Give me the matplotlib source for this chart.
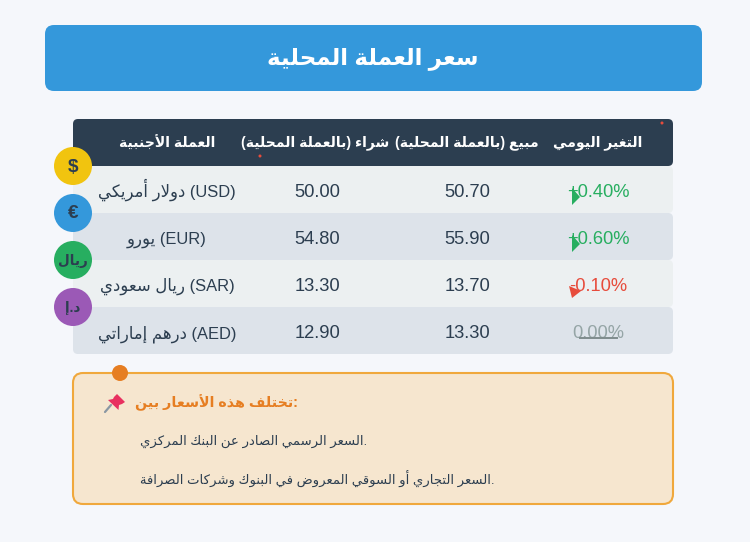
# -*- coding: utf-8 -*-
"""Local currency rates table, drawn in pixel coordinates."""

import matplotlib
matplotlib.use("Agg")
import matplotlib.pyplot as plt
from matplotlib.patches import Circle, FancyBboxPatch, Polygon

TITLE = "سعر العملة المحلية"
HEADERS = ["العملة الأجنبية", "شراء (بالعملة المحلية)", "مبيع (بالعملة المحلية)", "التغير اليومي"]
NAMES = ["دولار أمريكي", "يورو", "ريال سعودي", "درهم إماراتي"]
CODES = ["USD", "EUR", "SAR", "AED"]
BUY = ["50.00", "54.80", "13.30", "12.90"]
SELL = ["50.70", "55.90", "13.70", "13.30"]
CHANGE = ["+0.40%", "+0.60%", "-0.10%", "0.00%"]
SYMBOLS = ["$", "€", "ريال", "د.إ"]
NOTE_TITLE = "تختلف هذه الأسعار بين"
NOTES = [
    "السعر الرسمي الصادر عن البنك المركزي",
    "السعر التجاري أو السوقي المعروض في البنوك وشركات الصرافة",
]

BG = "#f5f7fb"
DARK = "#2c3e50"
FAMILY = ["Liberation Sans", "DejaVu Sans"]

# first presentation form of each letter, and how many forms it has
FORMS = {
    "ء": (0xFE80, 1), "آ": (0xFE81, 2), "أ": (0xFE83, 2), "ؤ": (0xFE85, 2), "إ": (0xFE87, 2),
    "ئ": (0xFE89, 4), "ا": (0xFE8D, 2), "ب": (0xFE8F, 4), "ة": (0xFE93, 2), "ت": (0xFE95, 4),
    "ث": (0xFE99, 4), "ج": (0xFE9D, 4), "ح": (0xFEA1, 4), "خ": (0xFEA5, 4), "د": (0xFEA9, 2),
    "ذ": (0xFEAB, 2), "ر": (0xFEAD, 2), "ز": (0xFEAF, 2), "س": (0xFEB1, 4), "ش": (0xFEB5, 4),
    "ص": (0xFEB9, 4), "ض": (0xFEBD, 4), "ط": (0xFEC1, 4), "ظ": (0xFEC5, 4), "ع": (0xFEC9, 4),
    "غ": (0xFECD, 4), "ف": (0xFED1, 4), "ق": (0xFED5, 4), "ك": (0xFED9, 4), "ل": (0xFEDD, 4),
    "م": (0xFEE1, 4), "ن": (0xFEE5, 4), "ه": (0xFEE9, 4), "و": (0xFEED, 2), "ى": (0xFEEF, 2),
    "ي": (0xFEF1, 4),
}
LAM_ALEF = {"آ": 0xFEF5, "أ": 0xFEF7, "إ": 0xFEF9, "ا": 0xFEFB}
MIRROR = {"(": ")", ")": "("}


def shape(text):
    """Arabic to joined presentation forms in visual order (matplotlib does neither)."""
    out = []
    prev_joins = False
    i = 0
    while i < len(text):
        ch = text[i]
        if ch not in FORMS:
            out.append(MIRROR.get(ch, ch))
            prev_joins = False
            i += 1
            continue
        if ch == "ل" and i + 1 < len(text) and text[i + 1] in LAM_ALEF:
            out.append(chr(LAM_ALEF[text[i + 1]] + int(prev_joins)))
            prev_joins = False
            i += 2
            continue
        base, n = FORMS[ch]
        next_ok = i + 1 < len(text) and text[i + 1] in FORMS and n == 4
        if n == 1:
            code = base
        elif n == 2:
            code = base + int(prev_joins)
        elif next_ok:
            code = base + (3 if prev_joins else 2)
        else:
            code = base + int(prev_joins)
        out.append(chr(code))
        prev_joins = next_ok
        i += 1
    return "".join(reversed(out))


def box(ax, x0, y0, x1, y1, r, **kw):
    ax.add_patch(FancyBboxPatch((x0 + r, y0 + r), x1 - x0 - 2 * r, y1 - y0 - 2 * r,
                                boxstyle=f"round,pad={r},rounding_size={r}", **kw))


def label(ax, x, y, s, px, color=DARK, ha="center", weight="normal", va="center"):
    ax.text(x, y, s, fontsize=px * 0.72, color=color, ha=ha, va=va,
            family=FAMILY, weight=weight, zorder=6)


fig = plt.figure(figsize=(7.5, 5.42), dpi=100, facecolor=BG)
ax = fig.add_axes([0, 0, 1, 1])
ax.set_xlim(0, 750)
ax.set_ylim(542, 0)
ax.axis("off")

# --- Title banner ---
box(ax, 45, 25, 702, 91, 9, fc="#3498db", ec="none")
label(ax, 373, 58, shape(TITLE), 23, color="white", weight="bold")

# --- Table ---
col_x = [167, 317, 467, 598]
row_h = 47
box(ax, 73, 119, 673, 166, 5, fc=DARK, ec="none")
header_x = [167, 315.5, 466.5, 598]
for x, head in zip(header_x, HEADERS):
    label(ax, x, 143, shape(head), 14, color="white", weight="bold")

change_colors = ["#27ae60", "#27ae60", "#e74c3c", "#95a5a6"]
for i in range(len(NAMES)):
    top = 166 + i * row_h
    fill = "#ecf0f1" if i % 2 == 0 else "#dde3ea"
    box(ax, 73, top, 673, top + row_h, 5, fc=fill, ec="none", zorder=1)
    # baseline alignment keeps every row at the same offset after pixel snapping
    base = top + 31
    label(ax, col_x[0], base, shape(NAMES[i]) + f" ({CODES[i]})", 16.5, va="baseline")
    label(ax, col_x[1], base, BUY[i], 18.4, va="baseline")
    label(ax, col_x[2], base, SELL[i], 18.4, va="baseline")
    label(ax, col_x[3], base, CHANGE[i], 18.4, color=change_colors[i], va="baseline")

# arrows that sit on top of the change values
for i in (0, 1):
    y = 166 + i * row_h
    ax.add_patch(Polygon([(572, y + 22), (580, y + 31), (572, y + 39)], fc="#27ae60", ec="none", zorder=7))
ax.add_patch(Polygon([(569, 286), (581, 291), (572, 298)], fc="#e74c3c", ec="none", zorder=7))
ax.plot([580, 617], [338, 338], color="#7f8c8d", lw=1.4, zorder=7)

# red specks from the original page
ax.add_patch(Circle((662, 123), 1.5, fc="#e74c3c", ec="none", zorder=7))
ax.add_patch(Circle((260, 156), 1.5, fc="#e74c3c", ec="none", zorder=7))

# --- Currency badges ---
badge_colors = ["#f1c40f", "#3498db", "#27ae60", "#9b59b6"]
for i, (sym, color) in enumerate(zip(SYMBOLS, badge_colors)):
    y = 166 + i * row_h
    ax.add_patch(Circle((73, y), 19, fc=color, ec="none", zorder=5))
    label(ax, 73, y + 1, shape(sym), 19 if i < 2 else 13.5, weight="bold")

# --- Note box ---
box(ax, 73, 373, 673, 504, 10, fc="#f6e6cf", ec="#f0a83c", lw=1.5)
ax.add_patch(Circle((120, 373), 8, fc="#e67e22", ec="none", zorder=5))
label(ax, 135, 403, shape(NOTE_TITLE) + ":", 14.2, color="#e67e22", ha="left", weight="bold")

# pin icon
ax.plot([105, 111], [412, 405], color="#8a97a3", lw=1.6, zorder=5, solid_capstyle="round")
ax.add_patch(Polygon([(117, 394), (125, 402), (122, 404), (119, 405), (118.5, 410), (108, 400), (113, 399), (114, 397)],
                     fc="#e8305f", ec="none", zorder=6))

for y, note in zip([441, 479], NOTES):
    label(ax, 140, y, shape(note) + ".", 13.3, ha="left")

fig.savefig("out.png", dpi=100, facecolor=BG)
